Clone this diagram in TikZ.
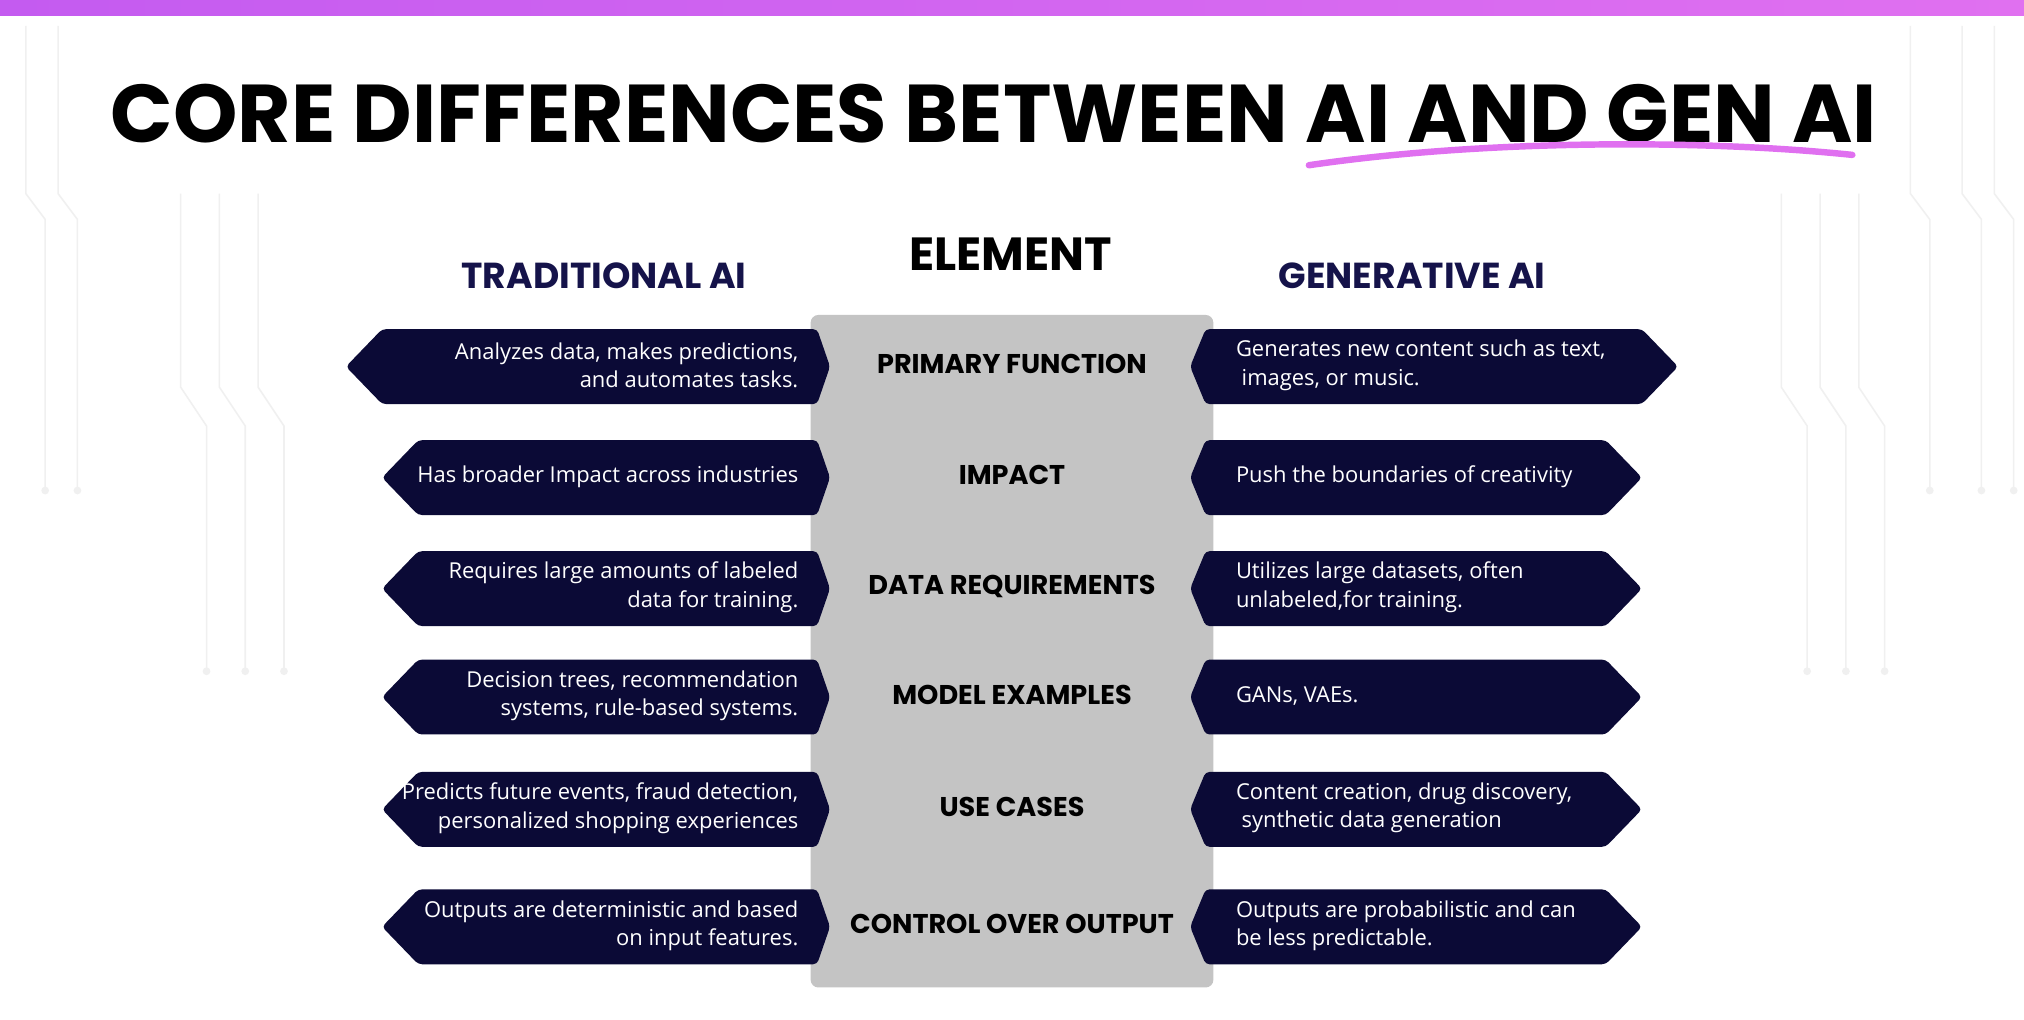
\documentclass[tikz,border=0pt]{standalone}
\usepackage{fontspec}
\setmainfont{Open Sans}
\newfontfamily\pop{Poppins}
\usetikzlibrary{positioning}
\definecolor{navy}{HTML}{0B0A36}
\definecolor{hdr}{HTML}{15134A}
\definecolor{colg}{HTML}{C4C4C4}
\definecolor{pinkA}{HTML}{C45BF0}
\definecolor{pinkB}{HTML}{E070F0}
\begin{document}
\begin{tikzpicture}[x=1pt,y=-1pt,
  txt/.style={font=\fontsize{17}{22}\selectfont, text=white, align=#1},
  mid/.style={font=\pop\bfseries\fontsize{21}{24}\selectfont, text=black},
  hd/.style={font=\pop\bfseries\fontsize{28}{30}\selectfont, text=hdr}]
\useasboundingbox (0,0) rectangle (1568,790);
\fill[white] (0,0) rectangle (1568,790);
\shade[left color=pinkA,right color=pinkB] (0,0) rectangle (1568,12);
% faint circuit lines
\begin{scope}[draw=gray!12, line width=1.2pt]
\foreach \x in {20,45,1480,1520,1545}{\draw (\x,20) -- (\x,150) -- (\x+15,170) -- (\x+15,380); \fill[gray!12] (\x+15,380) circle (3);}
\foreach \x in {140,170,200,1380,1410,1440}{\draw (\x,150) -- (\x,300) -- (\x+20,330) -- (\x+20,520); \fill[gray!12] (\x+20,520) circle (3);}
\end{scope}
% title
\node (title) at (770,88) {\resizebox{1368pt}{!}{\pop\bfseries CORE DIFFERENCES BETWEEN AI AND GEN AI}};
\draw[pinkB, line width=5pt, line cap=round] (1014,128) .. controls (1150,108) and (1320,108) .. (1435,120);
% headers
\node[hd] (h1) at (468,214) {TRADITIONAL AI};
\node[font=\pop\bfseries\fontsize{36}{38}\selectfont] (h2) at (783,197) {ELEMENT};
\node[hd] (h3) at (1094,214) {GENERATIVE AI};
% column
\fill[colg, rounded corners=6pt] (628,244) rectangle (940,765);
% rows
\foreach \y/\lx/\rx/\lt/\mt/\rt in {
 284/268/1300/{Analyzes data, makes predictions,\\and automates tasks.}/{PRIMARY FUNCTION}/{Generates new content such as text,\\\ images, or music.},
 370/296/1272/{Has broader Impact across industries}/{IMPACT}/{Push the boundaries of creativity},
 456/296/1272/{Requires large amounts of labeled\\data for training.}/{DATA REQUIREMENTS}/{Utilizes large datasets, often\\unlabeled,for training.},
 540/296/1272/{Decision trees, recommendation\\systems, rule-based systems.}/{MODEL EXAMPLES}/{GANs, VAEs.},
 627/296/1272/{Predicts future events, fraud detection,\\personalized shopping experiences}/{USE CASES}/{Content creation, drug discovery,\\\ synthetic data generation},
 718/296/1272/{Outputs are deterministic and based\\on input features.}/{CONTROL OVER OUTPUT}/{Outputs are probabilistic and can\\be less predictable.}}{
  \fill[navy, rounded corners=3pt] (\lx,\y) -- (\lx+28,\y-29) -- (633,\y-29) -- (643,\y) -- (633,\y+29) -- (\lx+28,\y+29) -- cycle;
  \fill[navy, rounded corners=3pt] (922,\y) -- (934,\y-29) -- (\rx-28,\y-29) -- (\rx,\y) -- (\rx-28,\y+29) -- (934,\y+29) -- cycle;
  \node[txt=right, anchor=east] at (622,\y-1) {\lt};
  \node[mid] at (784,\y-2) {\mt};
  \node[txt=left, anchor=west] at (954,\y-1) {\rt};
}
\end{tikzpicture}
\end{document}
